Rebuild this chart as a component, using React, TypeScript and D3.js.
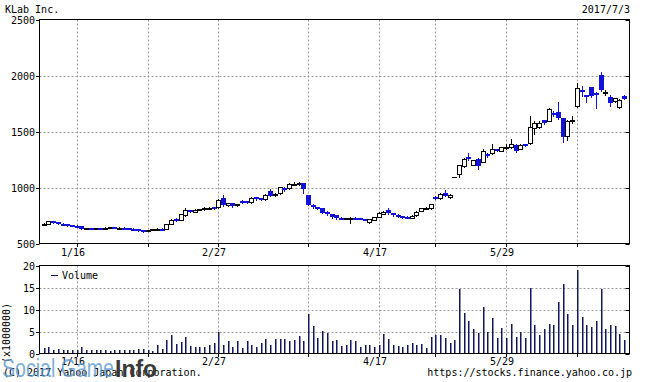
import React from 'react';
import * as d3 from 'd3';

const dates = [
  '1/4','1/5','1/6','1/10','1/11','1/12','1/13','1/16','1/17','1/18','1/19','1/20','1/23','1/24','1/25','1/26','1/27','1/30','1/31',
  '2/1','2/2','2/3','2/6','2/7','2/8','2/9','2/10','2/13','2/14','2/15','2/16','2/17','2/20','2/21','2/22','2/23','2/24','2/27','2/28',
  '3/1','3/2','3/3','3/6','3/7','3/8','3/9','3/10','3/13','3/14','3/15','3/16','3/17','3/21','3/22','3/23','3/24','3/27','3/28','3/29','3/30','3/31',
  '4/3','4/4','4/5','4/6','4/7','4/10','4/11','4/12','4/13','4/14','4/17','4/18','4/19','4/20','4/21','4/24','4/25','4/26','4/27','4/28',
  '5/1','5/2','5/8','5/9','5/10','5/11','5/12','5/15','5/16','5/17','5/18','5/19','5/22','5/23','5/24','5/25','5/26','5/29','5/30','5/31',
  '6/1','6/2','6/5','6/6','6/7','6/8','6/9','6/12','6/13','6/14','6/15','6/16','6/19','6/20','6/21','6/22','6/23','6/26','6/27','6/28','6/29','6/30',
  '7/3'
];

const opens = [672,678,698,688,678,670,664,660,655,632, 636,634,638,635,640,645,640,642,635,632, 628,618,613,620,628,632,632,676,718,712, 755,795,785,800,806,816,822,822,905,840, 860,840,880,876,868,912,902,894,965,935, 950,998,992,1030,1035,1036,932,845,822,815, 785,762,752,728,725,728,728,724,718,690, 712,738,765,800,772,758,745,738,728,752, 790,815,815,912,905,955,915,1091,1125,1190, 1275,1205,1255,1232,1300,1306,1340,1330,1360,1360, 1380,1345,1386,1396,1530,1540,1600,1595,1668,1678, 1620,1460,1600,1725,1875,1822,1893,1845,2005,1850, 1806,1770,1716,1818];

const closes = [678,700,688,678,670,664,660,655,632,636, 634,638,634,640,645,640,642,635,632,628, 618,613,620,628,632,630,672,712,708,760, 795,785,800,806,818,820,816,890,845,860, 835,850,862,870,906,894,896,936,925,940, 1003,978,1035,1032,1038,990,845,822,820,775, 760,738,725,725,726,730,726,720,712,716, 735,772,785,770,755,742,735,730,748,782, 815,818,852,900,945,925,935,1091,1200,1258, 1262,1245,1195,1328,1278,1343,1330,1358,1362,1387, 1330,1378,1374,1544,1575,1580,1578,1705,1655,1622, 1455,1595,1606,1890,1860,1804,1815,1835,1873,1853, 1756,1798,1783,1792];

const highs = [684,705,700,690,682,672,666,662,657,640, 640,641,642,643,648,648,645,644,638,635, 630,620,624,632,635,636,676,718,728,764, 815,800,806,812,822,826,828,895,935,866, 864,856,886,880,912,916,908,940,985,948, 1008,1002,1040,1048,1050,1040,935,850,826,818, 790,765,756,735,732,738,734,728,722,720, 740,778,790,815,776,762,748,742,752,786, 818,824,856,920,950,975,940,1091,1205,1265, 1305,1250,1262,1340,1308,1390,1348,1364,1385,1430, 1385,1385,1392,1634,1590,1590,1605,1712,1685,1765, 1625,1600,1640,1935,1905,1830,1898,1850,2030,1870, 1830,1802,1790,1822];

const lows = [668,675,684,674,666,660,656,652,628,628, 630,631,632,632,637,637,637,632,629,625, 615,603,610,617,625,626,628,672,700,706, 750,780,780,795,800,812,812,815,838,835, 825,836,858,866,864,890,892,890,920,928, 945,972,988,1022,1025,955,840,815,812,770, 752,732,720,718,715,685,720,716,706,684, 708,734,760,765,750,738,730,726,724,748, 786,810,812,895,900,920,910,1091,1091,1180, 1250,1198,1168,1225,1270,1300,1322,1325,1345,1355, 1318,1340,1368,1385,1480,1530,1570,1590,1640,1615, 1410,1420,1575,1720,1820,1760,1810,1710,1865,1825, 1730,1765,1712,1788];

// volume in units of 1,000,000 shares
const volumes = [
  1.3,1.4,0.9,1.1,0.8,0.8,0.8,0.9,1.4,0.9,0.8,0.7,0.8,0.7,0.6,0.8,0.7,0.8,0.8,0.8,1.1,1.0,0.8,0.6,
  1.9,1.1,3.0,4.2,2.1,2.6,3.8,1.7,1.4,1.4,1.4,1.9,2.3,4.8,1.9,2.8,1.4,2.8,1.3,2.8,2.0,1.4,2.5,3.4,1.9,3.4,3.2,3.2,2.9,3.1,4.0,2.8,9.0,6.3,3.5,
  5.2,4.7,2.9,3.0,1.7,1.9,3.0,2.8,1.4,1.9,1.9,1.4,1.9,4.4,3.2,1.9,1.6,1.5,2.0,2.4,1.9,2.2,1.3,3.8,4.1,4.3,3.5,2.4,3.0,
  14.6,9.1,7.3,5.5,4.7,10.5,5.0,8.1,3.5,5.7,3.5,6.6,3.7,5.0,3.5,14.9,6.4,4.1,5.5,6.6,6.4,11.8,15.7,8.9,6.4,18.9,8.4,6.4,6.0,7.3,14.6,5.5,6.4,6.3,4.4,3.0
];

const priceTicks = [500, 1000, 1500, 2000, 2500];
const volumeTicks = [0, 5, 10, 15, 20];
const gridDates = ['1/16', '2/6', '2/27', '3/27', '4/17', '5/8', '5/29', '6/19'];
const labelDates = ['1/16', '2/27', '4/17', '5/29'];

const title = 'KLab Inc.';
const asOf = '2017/7/3';
const copyright = '(C) 2017 Yahoo Japan Corporation.';
const url = 'https://stocks.finance.yahoo.co.jp';

const MONO = '"DejaVu Sans Mono", "Liberation Mono", monospace';
const UP_STROKE = '#000000';
const DOWN = '#1212d8';
const VOL = '#15155a';
const GRID = '#9c9c9c';

export default function App() {
  const L = 39.5, R = 629.5;
  const mainTop = 19.5, mainBot = 243.5;
  const volTop = 265.5, volBot = 353.5;

  const x = d3.scalePoint<string>().domain(dates).range([44.2, 624.6]);
  const y = d3.scaleLinear().domain([500, 2500]).range([mainBot, mainTop]);
  const yv = d3.scaleLinear().domain([0, 20]).range([volBot, volTop]);
  const cxOf = (d: string) => Math.floor(x(d) as number);

  const textStyle: React.CSSProperties = { fontFamily: MONO, fontSize: 10, fill: '#000' };

  return (
    <svg width={646} height={382} viewBox="0 0 646 382"
      style={{ position: 'absolute', left: 0, top: 0, background: '#fff' }}>
      <rect x={0} y={0} width={646} height={382} fill="#fff" />

      {/* header */}
      <text x={5} y={13} style={textStyle}>{title}</text>
      <text x={630} y={13} textAnchor="end" style={textStyle}>{asOf}</text>

      {/* ---- price panel grid ---- */}
      {priceTicks.filter(t => t > 500 && t < 2500).map(t => (
        <line key={'hg' + t} x1={L} x2={R} y1={Math.round(y(t)) + 0.5} y2={Math.round(y(t)) + 0.5}
          stroke={GRID} strokeDasharray="2,2" />
      ))}
      {gridDates.map(d => (
        <line key={'vg' + d} x1={cxOf(d) + 0.5} x2={cxOf(d) + 0.5} y1={mainTop} y2={mainBot}
          stroke={GRID} strokeDasharray="2,2" />
      ))}

      {/* candles */}
      {dates.map((d, i) => {
        const cx = cxOf(d);
        const o = opens[i], c = closes[i], h = highs[i], l = lows[i];
        const up = c >= o;
        const yTop = Math.round(y(Math.max(o, c)));
        const yBot = Math.round(y(Math.min(o, c)));
        const col = up ? UP_STROKE : DOWN;
        const wick = (
          <line x1={cx + 0.5} x2={cx + 0.5} y1={Math.round(y(h))} y2={Math.round(y(l)) + 1}
            stroke={col} strokeWidth={1} />
        );
        if (o === c) {
          return (
            <g key={'c' + i}>
              {wick}
              <line x1={cx - 2} x2={cx + 3} y1={yTop + 0.5} y2={yTop + 0.5} stroke="#000" />
            </g>
          );
        }
        if (up) {
          return (
            <g key={'c' + i}>
              {wick}
              <rect x={cx - 1.5} y={yTop + 0.5} width={4} height={Math.max(yBot - yTop, 1)}
                fill="#fff" stroke="#000" strokeWidth={1} />
            </g>
          );
        }
        return (
          <g key={'c' + i}>
            {wick}
            <rect x={cx - 2} y={yTop} width={5} height={Math.max(yBot - yTop, 2)} fill={DOWN} />
          </g>
        );
      })}

      {/* price frame + ticks */}
      <rect x={L} y={mainTop} width={R - L} height={mainBot - mainTop} fill="none" stroke="#000" />
      {priceTicks.map(t => (
        <g key={'pt' + t}>
          <line x1={36} x2={L} y1={Math.round(y(t)) + 0.5} y2={Math.round(y(t)) + 0.5} stroke="#000" />
          <line x1={R - 4} x2={R} y1={Math.round(y(t)) + 0.5} y2={Math.round(y(t)) + 0.5} stroke="#000" />
          <text x={35} y={Math.round(y(t)) + 0.5} dy="0.35em" textAnchor="end" style={textStyle}>{t}</text>
        </g>
      ))}
      {gridDates.map(d => (
        <line key={'bt' + d} x1={cxOf(d) + 0.5} x2={cxOf(d) + 0.5} y1={mainBot} y2={mainBot + 3.5} stroke="#000" />
      ))}
      {labelDates.map(d => (
        <text key={'pl' + d} x={cxOf(d) - 4} y={256} textAnchor="middle" style={textStyle}>{d}</text>
      ))}

      {/* ---- volume panel ---- */}
      {volumeTicks.filter(t => t > 0 && t < 20).map(t => (
        <line key={'vhg' + t} x1={L} x2={R} y1={Math.round(yv(t)) + 0.5} y2={Math.round(yv(t)) + 0.5}
          stroke={GRID} strokeDasharray="2,2" />
      ))}
      {gridDates.map(d => (
        <line key={'vvg' + d} x1={cxOf(d) + 0.5} x2={cxOf(d) + 0.5} y1={volTop} y2={volBot}
          stroke={GRID} strokeDasharray="2,2" />
      ))}
      {dates.map((d, i) => {
        const cx = cxOf(d);
        const top = Math.round(yv(volumes[i]));
        return <rect key={'v' + i} x={cx} y={top} width={1.5} height={volBot - top} fill={VOL} />;
      })}
      <rect x={L} y={volTop} width={R - L} height={volBot - volTop} fill="none" stroke="#000" />
      {volumeTicks.map(t => (
        <g key={'vt' + t}>
          <line x1={36} x2={L} y1={Math.round(yv(t)) + 0.5} y2={Math.round(yv(t)) + 0.5} stroke="#000" />
          <line x1={R - 4} x2={R} y1={Math.round(yv(t)) + 0.5} y2={Math.round(yv(t)) + 0.5} stroke="#000" />
          <text x={35} y={Math.round(yv(t)) + 0.5} dy="0.35em" textAnchor="end" style={textStyle}>{t}</text>
        </g>
      ))}
      {gridDates.map(d => (
        <line key={'vbt' + d} x1={cxOf(d) + 0.5} x2={cxOf(d) + 0.5} y1={volBot} y2={volBot + 3.5} stroke="#000" />
      ))}
      {labelDates.map(d => (
        <text key={'vl' + d} x={cxOf(d) - 4} y={365} textAnchor="middle" style={textStyle}>{d}</text>
      ))}

      {/* legend */}
      <line x1={51} x2={58} y1={275.5} y2={275.5} stroke={VOL} />
      <text x={62} y={275.5} dy="0.35em" style={textStyle}>Volume</text>

      {/* axis unit */}
      <text transform="translate(10,333) rotate(-90)" textAnchor="middle" style={textStyle}>(x1000000)</text>

      {/* footer */}
      <text x={3} y={376} style={textStyle}>{copyright}</text>
      <text x={632} y={376} textAnchor="end" style={textStyle}>{url}</text>

      {/* watermark */}
      <text x={2} y={377} textLength={112} lengthAdjust="spacingAndGlyphs"
        style={{ fontFamily: '"Liberation Sans", Arial, sans-serif', fontSize: 25, fill: '#5f9bd4', opacity: 0.8 }}>Social Game</text>
      <text x={115} y={377} style={{ fontFamily: '"Liberation Sans", Arial, sans-serif', fontSize: 23, fontWeight: 700, fill: '#3a3a3a' }}>Info</text>
    </svg>
  );
}
